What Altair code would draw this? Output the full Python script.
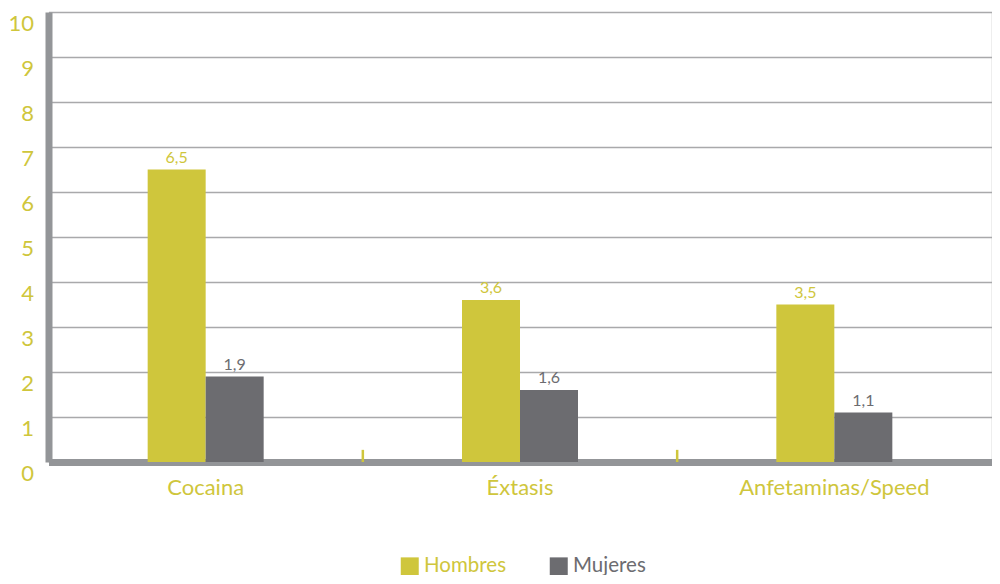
import altair as alt
import pandas as pd

categories = ["Cocaina", "Éxtasis", "Anfetaminas/Speed"]
series = ["Hombres", "Mujeres"]
hombres = [6.5, 3.6, 3.5]
mujeres = [1.9, 1.6, 1.1]
y_ticks = list(range(0, 11))
tick_cats = ["Éxtasis", "Anfetaminas/Speed"]

YELLOW = "#CFC63C"
GRAY = "#6C6C70"
AXIS = "#939598"
GRID = "#A9A9AB"
FONT = "Lato"

rows = []
for c, h, m in zip(categories, hombres, mujeres):
    rows.append({"cat": c, "serie": "Hombres", "valor": h})
    rows.append({"cat": c, "serie": "Mujeres", "valor": m})
df = pd.DataFrame(rows)
df["etiqueta"] = df["valor"].map(lambda v: f"{v:.1f}".replace(".", ","))

ticks_df = pd.DataFrame({"cat": tick_cats, "y0": [0] * len(tick_cats), "y1": [0.27] * len(tick_cats)})

W, H = 943, 450
PAD_IN = 1 - 116 / (W / 3)
PAD_OUT = PAD_IN / 2
STEP = W / (len(categories) - PAD_IN + 2 * PAD_OUT)
BOUNDARY_SHIFT = -PAD_OUT * STEP

x_scale = alt.Scale(domain=categories, paddingInner=PAD_IN, paddingOuter=PAD_OUT)
xoff_scale = alt.Scale(domain=series, paddingInner=0, paddingOuter=0)
y_scale = alt.Scale(domain=[0, 10], nice=False)
color_scale = alt.Scale(domain=series, range=[YELLOW, GRAY])

x_axis = alt.Axis(
    title=None, labelAngle=0, ticks=False, tickSize=0, labelPadding=15,
    labelFont=FONT, labelFontSize=22, labelColor=YELLOW, labelLimit=0,
    domainColor=AXIS, domainWidth=7, grid=False,
)
y_axis = alt.Axis(
    title=None, values=y_ticks, ticks=False, tickSize=0, labelPadding=15,
    labelFont=FONT, labelFontSize=22, labelColor=YELLOW,
    labelBaseline="top", labelOffset=1,
    domainColor=AXIS, domainWidth=7,
    grid=True, gridColor=GRID, gridWidth=1.5,
)

legend = alt.Legend(
    title=None, orient="none", direction="horizontal",
    legendX=351, legendY=544,
    symbolType="square", symbolSize=324, symbolStrokeWidth=0, symbolOpacity=1,
    labelFont=FONT, labelFontSize=20.5, labelOffset=4, columnPadding=42,
    labelColor={"expr": "datum.value === 'Hombres' ? '#CFC63C' : '#6C6C70'"},
)

bars = alt.Chart(df).mark_bar(opacity=1).encode(
    x=alt.X("cat:N", scale=x_scale, axis=x_axis, sort=categories),
    xOffset=alt.XOffset("serie:N", scale=xoff_scale, sort=series),
    y=alt.Y("valor:Q", scale=y_scale, axis=y_axis),
    color=alt.Color("serie:N", scale=color_scale, legend=legend, sort=series),
)

labels = alt.Chart(df).mark_text(font=FONT, fontSize=16, baseline="alphabetic", dy=-7).encode(
    x=alt.X("cat:N", scale=x_scale, sort=categories),
    xOffset=alt.XOffset("serie:N", scale=xoff_scale, sort=series),
    y=alt.Y("valor:Q", scale=y_scale),
    text="etiqueta:N",
    color=alt.Color("serie:N", scale=color_scale, legend=None, sort=series),
)

tick_marks = alt.Chart(ticks_df).mark_rule(color=YELLOW, strokeWidth=2.5, xOffset=BOUNDARY_SHIFT).encode(
    x=alt.X("cat:N", scale=x_scale, bandPosition=0, sort=categories),
    y=alt.Y("y0:Q", scale=y_scale),
    y2="y1:Q",
)

chart = alt.layer(bars, labels, tick_marks).properties(
    width=W, height=H,
    autosize=alt.AutoSizeParams(type="none"),
    padding={"left": 40.5, "top": 4, "right": 0, "bottom": 113},
).configure_view(stroke=None).configure(background="white")

chart.save("out.html", embed_options={"renderer": "svg", "actions": False})
